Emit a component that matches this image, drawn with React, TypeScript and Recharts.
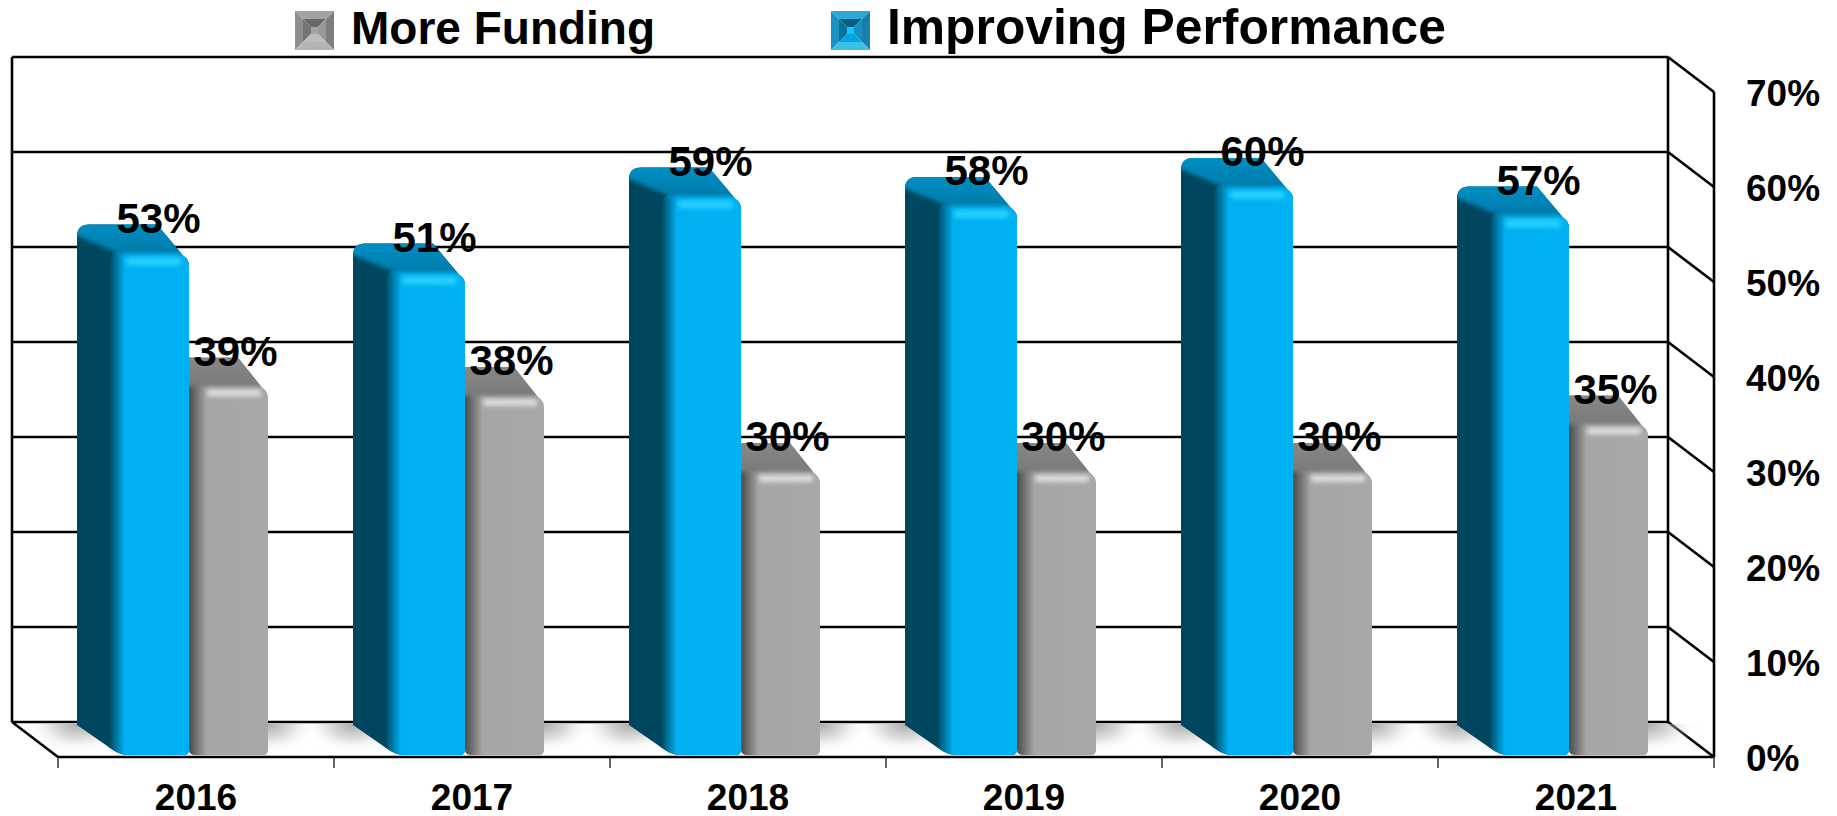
import { BarChart, Bar, XAxis, YAxis, CartesianGrid, Legend, LabelList, usePlotArea } from 'recharts'

const years = ['2016', '2017', '2018', '2019', '2020', '2021']
const improvingPerformance = [53, 51, 59, 58, 60, 57]
const moreFunding = [39, 38, 30, 30, 30, 35]
const yTicks = [0, 10, 20, 30, 40, 50, 60, 70]

const chartData = years.map((year, i) => ({
  year,
  improving: improvingPerformance[i],
  funding: moreFunding[i],
}))

const FONT = '"Liberation Sans", Arial, sans-serif'
const WALL_X = 46
const WALL_Y = 35
const BAR_SHIFT = -7
const BAR_DEPTH = 29

// back wall, side wall and floor edge of the fake 3D box
function BoxWalls() {
  const plot = usePlotArea()
  if (!plot) return null
  const bottom = plot.y + plot.height
  const right = plot.x + plot.width
  const band = plot.width / years.length
  return (
    <g stroke="#000" fill="none">
      <g strokeWidth={2.6}>
        <line x1={plot.x - WALL_X} y1={plot.y - WALL_Y} x2={plot.x - WALL_X} y2={bottom - WALL_Y} />
        <line x1={right - WALL_X} y1={plot.y - WALL_Y} x2={right - WALL_X} y2={bottom - WALL_Y} />
        <line x1={plot.x - WALL_X} y1={bottom - WALL_Y} x2={plot.x} y2={bottom} />
      </g>
      {years.concat('').map((_, i) => (
        <line key={i} x1={plot.x + i * band} y1={bottom} x2={plot.x + i * band} y2={bottom + 11} strokeWidth={1.2} />
      ))}
    </g>
  )
}

function GridLine(props: any) {
  const { x1, x2, y1 } = props
  return (
    <g stroke="#000" strokeWidth={2.6}>
      <line x1={x1 - WALL_X} y1={y1 - WALL_Y} x2={x2 - WALL_X} y2={y1 - WALL_Y} />
      <line x1={x2 - WALL_X} y1={y1 - WALL_Y} x2={x2} y2={y1} />
    </g>
  )
}

function FloorShadow({ id, cx, floor }: { id: string; cx: number; floor: number }) {
  return (
    <>
      <clipPath id={id}>
        <rect x={cx - 70} y={floor - WALL_Y + 2} width={140} height={WALL_Y - 3.5} />
      </clipPath>
      <ellipse cx={cx} cy={floor - WALL_Y + 2} rx={50} ry={30} fill="url(#floorShade)" clipPath={`url(#${id})`} />
    </>
  )
}

function ImprovingBar(props: any) {
  const { x, y, width, height, index } = props
  const fx = x + BAR_SHIFT + 5
  const fr = x + BAR_SHIFT + width
  const top = y - 3
  const base = y + height - 2
  const bx = fx - 38
  const by = y - BAR_DEPTH
  const backR = fr - 32
  const outline = `M${bx},${by + 12} Q${bx},${by} ${bx + 12},${by} L${backR},${by} L${fr - 6},${top + 5} Q${fr},${top + 9} ${fr},${top + 15} L${fr},${base - 5} Q${fr},${base} ${fr - 5},${base} L${fx + 14},${base} Q${fx + 5},${base} ${fx - 2},${base - 5} L${bx},${base - 30} Z`
  const clipId = `bar-i-${index}`
  return (
    <g>
      <FloorShadow id={`floor-i-${index}`} cx={bx} floor={y + height} />
      <clipPath id={clipId}>
        <path d={outline} />
      </clipPath>
      <g clipPath={`url(#${clipId})`}>
        <rect x={bx - 2} y={by - 2} width={fr - bx + 4} height={base - by + 4} fill="#00465f" />
        <rect x={fx - 6} y={top} width={fr - fx + 6} height={base - top + 8} rx={12} fill="url(#blueFront)" />
        <path
          d={`M${bx - 6},${by - 6} L${backR + 6},${by - 6} L${fr + 4},${top + 3} L${fx + 4},${top + 3} L${bx - 6},${by + 9} Z`}
          fill="url(#blueTop)"
          filter="url(#softEdge)"
        />
        <rect x={fx + 11} y={top + 7} width={fr - fx - 19} height={8} rx={4} fill="#25d0ff" filter="url(#softGlint)" />
      </g>
    </g>
  )
}

function FundingBar(props: any) {
  const { x, y, width, height, index } = props
  const fx = x + BAR_SHIFT
  const fr = x + BAR_SHIFT + width
  const top = y - 3
  const base = y + height - 2
  const by = y - BAR_DEPTH
  const backR = fr - 30
  const outline = `M${fx},${by} L${backR},${by} L${fr - 6},${top + 4} Q${fr},${top + 8} ${fr},${top + 14} L${fr},${base - 5} Q${fr},${base} ${fr - 5},${base} L${fx + 6},${base} Q${fx},${base} ${fx},${base - 6} Z`
  const clipId = `bar-f-${index}`
  return (
    <g>
      <FloorShadow id={`floor-f-${index}`} cx={fr} floor={y + height} />
      <clipPath id={clipId}>
        <path d={outline} />
      </clipPath>
      <g clipPath={`url(#${clipId})`}>
        <rect x={fx} y={by} width={fr - fx} height={base - by} fill="url(#grayFront)" />
        <path
          d={`M${fx - 6},${by - 6} L${backR + 6},${by - 6} L${fr + 4},${top + 3} L${fx + 14},${top + 3} L${fx - 6},${top + 3} Z`}
          fill="url(#grayTop)"
          filter="url(#softEdge)"
        />
        <rect x={fx + 18} y={top + 6} width={fr - fx - 25} height={7} rx={3} fill="#dcdcdc" filter="url(#softGlint)" />
      </g>
    </g>
  )
}

const legendSizes: Record<string, number> = { 'More Funding': 46, 'Improving Performance': 49.8 }
const legendLefts: Record<string, number> = { 'More Funding': 295, 'Improving Performance': 831 }
const legendLifts: Record<string, number> = { 'More Funding': -1.9, 'Improving Performance': -2.8 }

// bevel colours: top, left, right, bottom of outer ring, then of inner ring, then centre
const grayBevel = ['#a2a2a2', '#8e8e8e', '#7e7e7e', '#b4b4b4', '#686868', '#757575', '#999', '#bcbcbc', '#a4a4a4']
const blueBevel = ['#2ba8d8', '#1a93c4', '#1780ae', '#3cc0ea', '#075f82', '#0a7099', '#0d93c4', '#00a6e0', '#12c6ff']

function BevelIcon({ colors }: { colors: string[] }) {
  const s = 39
  const a = 8
  const b = 16
  const ring = (o: number, c: string[]) => (
    <>
      <polygon points={`${o},${o} ${s - o},${o} ${s - o - 8},${o + 8} ${o + 8},${o + 8}`} fill={c[0]} />
      <polygon points={`${o},${o} ${o + 8},${o + 8} ${o + 8},${s - o - 8} ${o},${s - o}`} fill={c[1]} />
      <polygon points={`${s - o},${o} ${s - o - 8},${o + 8} ${s - o - 8},${s - o - 8} ${s - o},${s - o}`} fill={c[2]} />
      <polygon points={`${o},${s - o} ${o + 8},${s - o - 8} ${s - o - 8},${s - o - 8} ${s - o},${s - o}`} fill={c[3]} />
    </>
  )
  return (
    <svg width={s} height={s} style={{ display: 'block', flex: 'none' }}>
      {ring(0, colors.slice(0, 4))}
      {ring(a, colors.slice(4, 8))}
      <rect x={b} y={b} width={s - 2 * b} height={s - 2 * b} fill={colors[8]} />
    </svg>
  )
}

function ChartLegend({ payload }: any) {
  return (
    <div style={{ position: 'relative', width: 1837, height: 56, fontFamily: FONT, fontWeight: 700, color: '#000' }}>
      {(payload || []).map((item: any) => (
        <div
          key={item.value}
          style={{ position: 'absolute', left: legendLefts[item.value], top: 11, display: 'flex', alignItems: 'center', whiteSpace: 'nowrap' }}
        >
          <BevelIcon colors={item.value === 'More Funding' ? grayBevel : blueBevel} />
          <span style={{ marginLeft: 17, position: 'relative', top: legendLifts[item.value], fontSize: legendSizes[item.value], lineHeight: '39px' }}>
            {item.value}
          </span>
        </div>
      ))}
    </div>
  )
}

export default function App() {
  return (
    <div style={{ position: 'absolute', left: 0, top: 0, width: 1837, height: 816, overflow: 'hidden', background: '#fff' }}>
      <BarChart
        width={1837}
        height={816}
        data={chartData}
        margin={{ top: 92, right: 0, left: 58, bottom: 0 }}
        barSize={79}
        barGap={0}
      >
        <defs>
          <linearGradient id="blueFront" x1="0" x2="1" y1="0" y2="0">
            <stop offset="0" stopColor="#00465f" />
            <stop offset="0.2" stopColor="#00b0f0" />
            <stop offset="1" stopColor="#00b2f2" />
          </linearGradient>
          <linearGradient id="blueTop" x1="0" x2="0" y1="0" y2="1">
            <stop offset="0" stopColor="#0092c8" />
            <stop offset="1" stopColor="#007cab" />
          </linearGradient>
          <linearGradient id="grayFront" x1="0" x2="1" y1="0" y2="0">
            <stop offset="0" stopColor="#4a4a4a" />
            <stop offset="0.22" stopColor="#a6a6a6" />
            <stop offset="1" stopColor="#a8a8a8" />
          </linearGradient>
          <linearGradient id="grayTop" x1="0" x2="0" y1="0" y2="1">
            <stop offset="0" stopColor="#8a8a8a" />
            <stop offset="1" stopColor="#7a7a7a" />
          </linearGradient>
          <radialGradient id="floorShade">
            <stop offset="0" stopColor="#8c8c8c" stopOpacity={0.75} />
            <stop offset="0.45" stopColor="#b4b4b4" stopOpacity={0.5} />
            <stop offset="1" stopColor="#fff" stopOpacity={0} />
          </radialGradient>
          <filter id="softEdge" x="-10%" y="-20%" width="120%" height="140%">
            <feGaussianBlur stdDeviation="2" />
          </filter>
          <filter id="softGlint" x="-10%" y="-80%" width="120%" height="260%">
            <feGaussianBlur stdDeviation="2" />
          </filter>
        </defs>
        <CartesianGrid vertical={false} horizontal={GridLine} syncWithTicks />
        <BoxWalls />
        <XAxis
          dataKey="year"
          tickLine={false}
          axisLine={{ stroke: '#000', strokeWidth: 2.6 }}
          height={59}
          tickMargin={21}
          interval={0}
          tick={{ fill: '#000', fontSize: 37, fontWeight: 700, fontFamily: FONT }}
        />
        <YAxis
          orientation="right"
          domain={[0, 70]}
          ticks={yTicks}
          width={123}
          tickLine={false}
          tickMargin={26}
          interval={0}
          tickFormatter={(v: number) => `${v}%`}
          axisLine={{ stroke: '#000', strokeWidth: 2.6 }}
          tick={{ fill: '#000', fontSize: 37, fontWeight: 700, fontFamily: FONT, dy: 1 }}
        />
        <Legend verticalAlign="middle" layout="horizontal" wrapperStyle={{ top: 0, left: 0, bottom: 'auto', width: 1837 }} content={ChartLegend} />
        <Bar dataKey="improving" name="Improving Performance" fill="#00b0f0" shape={ImprovingBar} isAnimationActive={false}>
          <LabelList
            dataKey="improving"
            position="top"
            offset={21}
            dx={2}
            formatter={(v: number) => `${v}%`}
            style={{ fill: '#000', fontSize: 42, fontWeight: 700, fontFamily: FONT }}
          />
        </Bar>
        <Bar dataKey="funding" name="More Funding" fill="#a6a6a6" shape={FundingBar} isAnimationActive={false}>
          <LabelList
            dataKey="funding"
            position="top"
            offset={21}
            formatter={(v: number) => `${v}%`}
            style={{ fill: '#000', fontSize: 42, fontWeight: 700, fontFamily: FONT }}
          />
        </Bar>
      </BarChart>
    </div>
  )
}
